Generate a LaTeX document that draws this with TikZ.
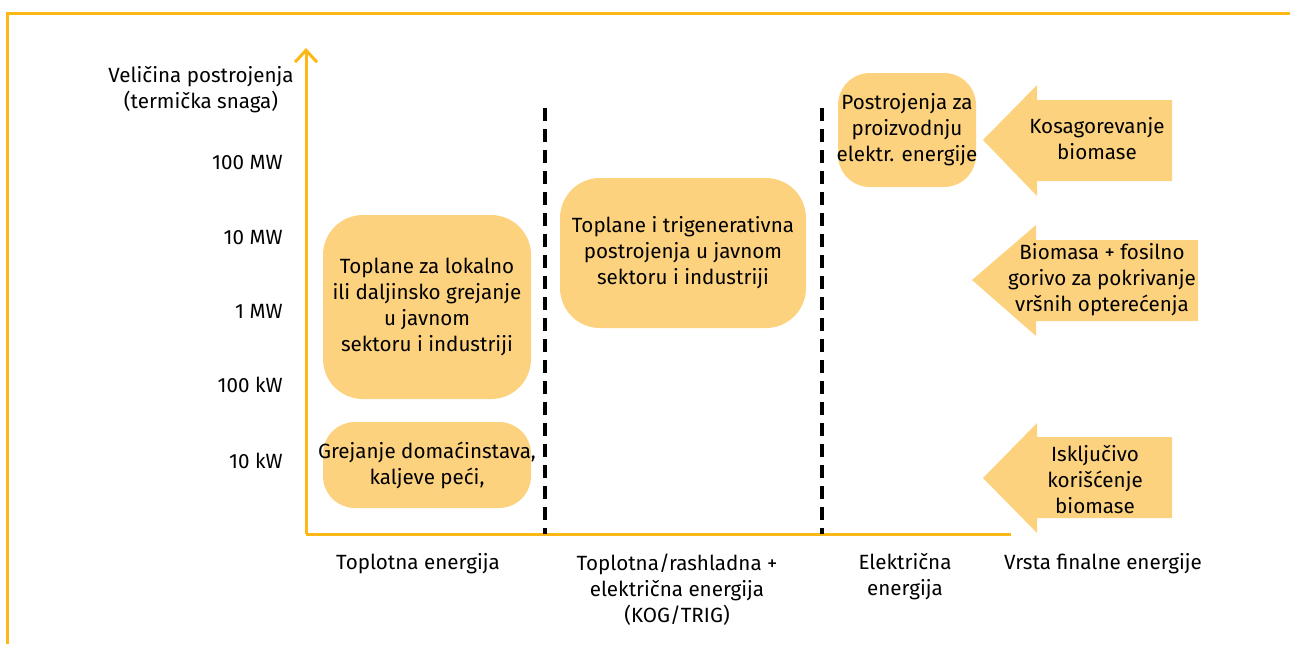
\documentclass[tikz,border=0pt]{standalone}
\usepackage{fontspec}
\setmainfont{Fira Sans}
\usepackage{xcolor}
\usetikzlibrary{arrows.meta, positioning}

\definecolor{osa}{HTML}{FBB817}
\definecolor{polje}{HTML}{FDD27E}

\begin{document}
\begin{tikzpicture}[x=0.5pt, y=-0.5pt, >={Straight Barb[length=6pt, width=11pt, line width=1.5pt]},
    font=\fontsize{10.3}{13}\selectfont,
    polje/.style={fill=polje, rounded corners=20pt, align=center, inner sep=0pt},
    strelica/.style={fill=polje},
    natpis/.style={align=center, inner sep=0pt}]
    \useasboundingbox (0,0) rectangle (1290,644);

    % Okvir
    \draw[osa, line width=1.5pt] (7,644) -- (7,13) -- (1290,13);

    % Ose
    \coordinate (O) at (306,534);
    \coordinate (ykraj) at (306,48);
    \coordinate (xkraj) at (1011,534);
    \draw[osa, line width=1.5pt, ->] (O) -- (ykraj);
    \draw[osa, line width=1.5pt] (O) -- (xkraj);
    \node[natpis] (yosa) at (201,90) {Veličina postrojenja\\(termička snaga)};

    % Oznake snage
    \foreach \y/\t [count=\i] in {163/100 MW, 238/10 MW, 311/1 MW, 385/100 kW, 461/10 kW} {
        \node[natpis, anchor=east] (snaga\i) at (283,\y) {\t};
    }

    % Granice izmedju vrsta energije
    \foreach \x in {545,822} {
        \draw[line width=2pt, dash pattern=on 6.5pt off 4pt] (\x,108) -- (\x,534);
    }

    % Postrojenja
    \node[polje, minimum width=104pt, minimum height=92pt] (toplane) at (427,307)
        {Toplane za lokalno\\ili daljinsko grejanje\\u javnom\\sektoru i industriji};
    \node[polje, minimum width=104pt, minimum height=43pt, rounded corners=16pt, inner xsep=-3pt] (domacinstva) at (427,465)
        {Grejanje domaćinstava,\\kaljeve peći,};
    \node[polje, minimum width=123pt, minimum height=75pt] (kogen) at (683,253)
        {Toplane i trigenerativna\\postrojenja u javnom\\sektoru i industriji};
    \node[polje, minimum width=69pt, minimum height=57pt, rounded corners=16pt, inner xsep=-1pt] (elektr) at (907,130)
        {Postrojenja za\\proizvodnju\\elektr. energije};

    % Strelice sa gorivom
    \fill[strelica] (983,140) -- (1037,85) -- (1037,100) -- (1172,100) -- (1172,181)
        -- (1037,181) -- (1037,196) -- cycle;
    \node[natpis] (kosag) at (1097,139) {Kosagorevanje\\biomase};
    \fill[strelica] (972,280) -- (1036,225) -- (1036,240) -- (1198,240) -- (1198,321)
        -- (1036,321) -- (1036,336) -- cycle;
    \node[natpis] (fosil) at (1102,280) {Biomasa + fosilno\\gorivo za pokrivanje\\vršnih opterećenja};
    \fill[strelica] (983,478) -- (1037,423) -- (1037,437) -- (1172,437) -- (1172,518)
        -- (1037,518) -- (1037,533) -- cycle;
    \node[natpis] (biom) at (1095,480) {Isključivo\\korišćenje\\biomase};

    % Vrste finalne energije
    \node[natpis, anchor=north] (toplotna) at (418,553) {Toplotna energija};
    \node[natpis, anchor=north] (kog) at (677,553) {Toplotna/rashladna +\\električna energija\\(KOG/TRIG)};
    \node[natpis, anchor=north] (elenergija) at (905,553) {Električna\\energija};
    \node[natpis, anchor=north] (xosa) at (1103,553) {Vrsta finalne energije};
\end{tikzpicture}
\end{document}
